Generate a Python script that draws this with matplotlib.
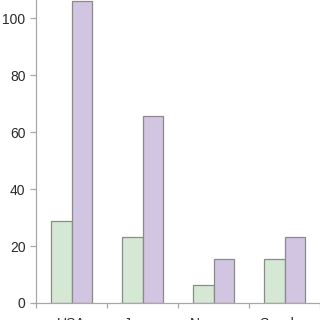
import matplotlib
matplotlib.use('Agg')
import matplotlib.pyplot as plt
import numpy as np

plt.rcParams['font.family'] = ['Liberation Sans', 'DejaVu Sans']

# Data
countries = ['USA', 'Japan', 'Norway', 'Sweden']
series_a = [28.8, 23.2, 6.2, 15.5]     # green bars
series_b = [106.0, 65.8, 15.5, 23.2]   # purple bars
y_ticks = [0, 20, 40, 60, 80, 100]

green = '#d4e8d4'
purple = '#d1c5e1'
edge = '#8a8a8a'
axis_grey = '#a8a8a8'

fig = plt.figure(figsize=(3.2, 3.2), dpi=100, facecolor='white')
ax = fig.add_axes([36 / 320, 17 / 320, 1 - 36 / 320, 1 - 17 / 320])

x = np.arange(len(countries))
w = 0.29
ax.bar(x - w / 2, series_a, width=w, color=green, edgecolor=edge, linewidth=0.9)
ax.bar(x + w / 2, series_b, width=w, color=purple, edgecolor=edge, linewidth=0.9)

ax.set_xlim(-0.5, len(countries) - 0.5)
ax.set_ylim(0, 106.5)

# y axis
ax.set_yticks(y_ticks)
ax.set_yticklabels([str(t) for t in y_ticks], fontsize=10, color='#2a2a2a')
ax.tick_params(axis='y', length=4.5, width=0.9, color=axis_grey, pad=3)

# x axis: ticks at group boundaries, labels at group centres
ax.set_xticks(np.arange(len(countries) + 1) - 0.5)
ax.set_xticklabels([])
ax.tick_params(axis='x', which='major', length=3.5, width=0.9, color=axis_grey)
ax.set_xticks(x, minor=True)
ax.set_xticklabels(countries, minor=True, fontsize=10, color='#2a2a2a')
ax.tick_params(axis='x', which='minor', length=0, pad=10)

for s in ['top', 'right']:
    ax.spines[s].set_visible(False)
for s in ['left', 'bottom']:
    ax.spines[s].set_color(axis_grey)
    ax.spines[s].set_linewidth(0.9)

fig.savefig('out.png', dpi=100, facecolor='white')
